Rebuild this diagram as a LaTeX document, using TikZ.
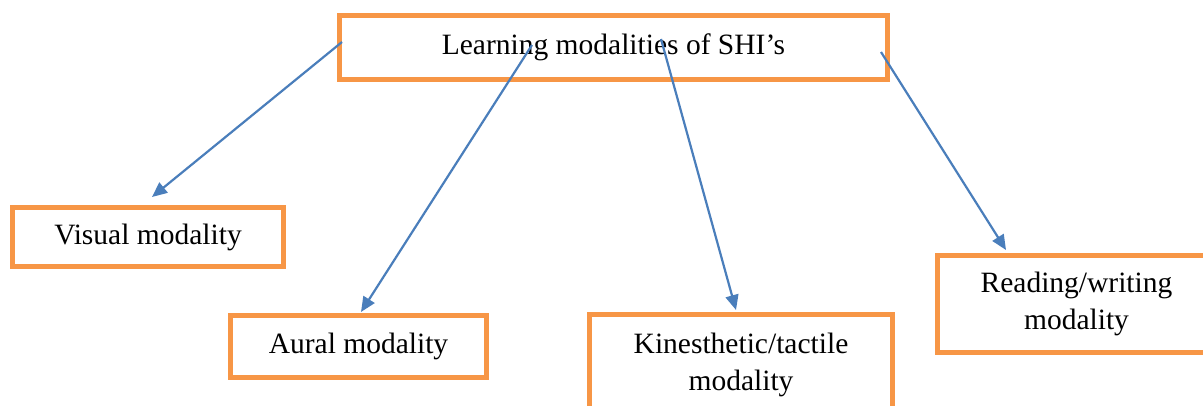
\documentclass[tikz,border=0pt]{standalone}
\usepackage{fontspec}
\setmainfont{Liberation Serif}
\usetikzlibrary{arrows.meta}
\definecolor{boxorange}{HTML}{F79646}
\definecolor{arrowblue}{HTML}{4A7EBB}
\begin{document}
\begin{tikzpicture}[x=1pt,y=-1pt,
  modbox/.style={draw=boxorange, line width=5pt, fill=white, inner sep=0pt,
    align=center, font=\fontsize{29.5}{37}\selectfont},
  conn/.style={draw=arrowblue, line width=2.2pt,
    -{Triangle[length=15pt,width=13pt]}}]
\useasboundingbox (0,0) rectangle (1203,405);
\clip (0,0) rectangle (1203,405);
\node[modbox, minimum width=548pt, minimum height=64pt] (top) at (613.5,47.5) {Learning modalities of SHI’s};
\node[modbox, minimum width=271pt, minimum height=59pt] (vis) at (148,237) {Visual modality};
\node[modbox, minimum width=256pt, minimum height=62pt] (aur) at (358.5,346.5) {Aural modality};
\node[modbox, minimum width=303pt, minimum height=100pt] (kin) at (741,364.5) {Kinesthetic/tactile\\modality};
\node[modbox, minimum width=278pt, minimum height=97pt] (rw) at (1076.5,304) {Reading/writing\\modality};
\coordinate (s1) at (342,42);
\coordinate (s2) at (532,45);
\coordinate (s3) at (661,39);
\coordinate (s4) at (881,52);
\coordinate (e1) at (152,197);
\coordinate (e2) at (361,312);
\coordinate (e3) at (736,310);
\coordinate (e4) at (1006,250);
\draw[conn] (s1) -- (e1);
\draw[conn] (s2) -- (e2);
\draw[conn] (s3) -- (e3);
\draw[conn] (s4) -- (e4);
\end{tikzpicture}
\end{document}
